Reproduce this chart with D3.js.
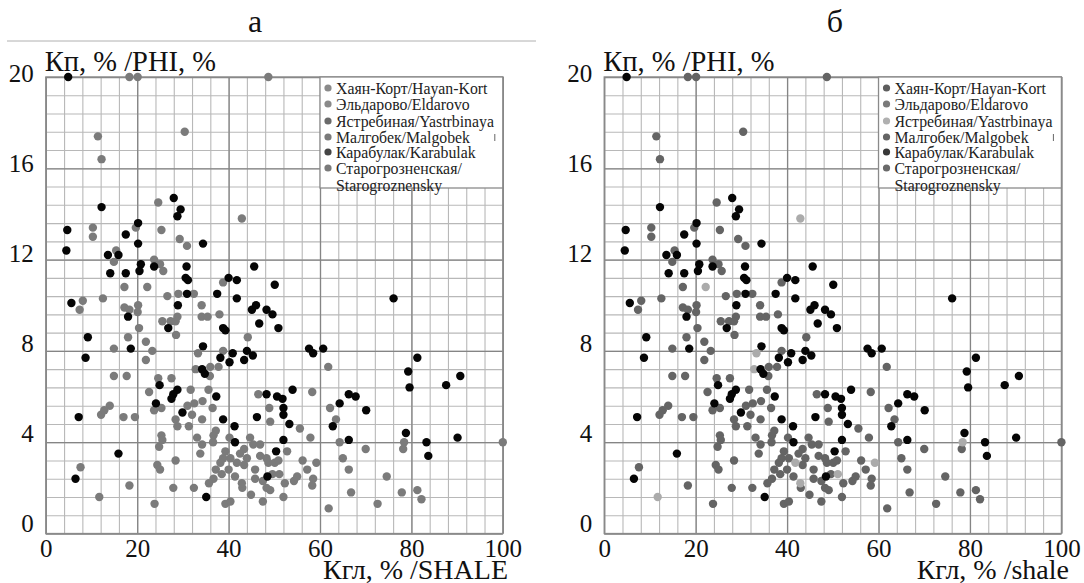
<!DOCTYPE html>
<html>
<head>
<meta charset="utf-8">
<script src="https://cdn.jsdelivr.net/npm/d3@7"></script>
<style>
  body { margin: 0; background: #fff; }
  text { font-family: "Liberation Serif", "Times New Roman", serif; }
</style>
</head>
<body>
<script>
// Axis ticks
const xTicks = [0, 20, 40, 60, 80, 100];
const yTicks = [0, 4, 8, 12, 16, 20];

// Legend entries (last one wraps to a second line)
const legendLabels = [
  "Хаян-Корт/Hayan-Kort",
  "Эльдарово/Eldarovo",
  "Ястребиная/Yastrbinaya",
  "Малгобек/Malgobek",
  "Карабулак/Karabulak",
  "Старогрозненская/",
  "Starogroznensky"
];

// Karabulak points [SHALE %, PHI %] (black)
const karabulak = [
  [4.9,20],[28.0,14.7],[29.5,14.2],[28.8,13.9],[12.2,14.3],[20.2,13.6],[4.7,13.3],[4.5,12.4],
  [17.5,13.1],[20.2,12.7],[34.4,12.7],[13.6,12.2],[15.9,12.2],[14.1,11.4],[17.5,11.4],[20.8,11.8],
  [20.5,11.5],[23.7,11.7],[30.8,11.7],[30.6,11.2],[31.1,11.1],[30.9,10.5],[45.6,11.7],[40.0,11.2],
  [41.8,11.1],[50.1,10.9],[37.5,10.5],[41.8,10.3],[5.6,10.1],[9.2,8.6],[8.7,7.7],[18.0,9.5],
  [28.9,10.0],[26.8,9.0],[38.8,9.0],[39.3,8.9],[45.1,9.8],[46.0,10.0],[48.3,9.8],[49.6,9.6],
  [46.7,9.2],[50.9,9.0],[76.1,10.3],[18.6,8.1],[34.4,8.2],[38.2,7.7],[40.9,7.9],[40.2,7.5],
  [44.0,8.0],[43.4,7.6],[45.3,7.8],[57.6,8.1],[58.5,7.9],[60.7,8.1],[34.2,7.2],[34.8,7.0],
  [24.9,6.5],[28.8,6.3],[27.9,6.1],[27.5,5.9],[37.3,6.0],[24.1,5.7],[29.9,5.3],[38.8,5.0],
  [41.3,4.7],[41.4,4.0],[46.2,5.1],[48.3,6.1],[50.6,6.0],[51.8,5.9],[52.0,5.5],[52.0,5.2],
  [53.3,4.8],[54.0,6.3],[52.0,4.1],[50.4,3.6],[48.5,2.5],[35.1,1.6],[15.9,3.5],[6.5,2.4],
  [7.2,5.1],[62.8,4.7],[64.3,5.7],[66.3,6.1],[67.8,6.0],[70.1,5.4],[66.3,4.1],[78.8,4.4],
  [83.3,4.0],[83.7,3.4],[90.1,4.2],[79.3,7.1],[81.3,7.7],[79.6,6.4],[87.6,6.5],[90.7,6.9]
];

// Yastrebinaya points (light grey in panel б)
const yastrebinaya = [
  [42.9,13.8],[22.2,10.8],[33.3,7.9],[32.8,7.2],[41.8,3.1],[51.1,2.6],[42.9,2.2],[59.2,3.1],
  [78.4,4.0],[11.7,1.6]
];

// Remaining fields (grey)
const otherFields = [
  [18.3,20],[20.1,20],[48.7,20],[11.4,17.4],[30.4,17.6],[12.2,16.4],[24.6,14.5],[19.7,13.4],
  [10.3,13.4],[10.3,13.0],[25.3,13.3],[29.3,12.9],[30.9,12.6],[15.4,12.4],[14.9,11.9],[23.7,12.0],
  [25.0,11.8],[25.7,11.5],[32.4,10.5],[17.2,10.8],[26.6,10.4],[29.0,10.5],[38.8,11.0],[8.1,10.2],
  [7.4,9.8],[12.5,10.3],[17.2,9.9],[18.3,9.8],[20.2,10.0],[20.1,9.7],[34.1,10.0],[34.1,9.5],
  [35.4,9.5],[38.0,9.6],[25.5,9.3],[27.3,9.3],[28.8,9.5],[28.4,9.3],[20.4,9.0],[28.5,8.7],
  [44.2,8.6],[18.0,8.6],[14.9,8.1],[21.9,8.4],[23.3,8.0],[21.9,7.6],[14.9,6.9],[17.7,6.9],
  [38.8,8.0],[61.8,7.3],[36.0,7.3],[37.8,7.3],[35.9,6.9],[24.6,6.8],[27.5,6.8],[22.6,6.2],
  [31.7,6.3],[35.6,6.3],[25.3,5.5],[23.7,5.4],[31.0,5.6],[32.5,5.7],[32.0,5.2],[34.3,5.8],
  [36.5,5.5],[34.2,5.0],[28.4,5.0],[28.8,4.7],[31.3,4.7],[37.2,4.5],[36.7,4.3],[33.1,4.2],
  [34.2,3.9],[33.8,3.5],[36.6,4.0],[40.2,4.2],[46.5,6.1],[48.9,5.5],[49.1,4.9],[55.6,4.6],
  [57.9,4.2],[58.3,6.2],[52.8,3.6],[44.7,4.2],[45.4,3.9],[46.9,3.9],[43.4,3.7],[42.5,3.5],
  [44.0,3.3],[39.3,3.6],[38.8,3.3],[40.4,3.3],[43.4,3.0],[38.2,3.1],[37.2,2.8],[38.5,2.6],
  [40.0,2.8],[41.4,2.5],[36.7,2.4],[35.7,2.2],[32.4,2.0],[27.9,2.0],[43.0,2.0],[44.9,1.7],
  [45.8,2.8],[45.8,2.4],[47.5,2.3],[48.3,2.0],[49.1,1.9],[47.5,1.4],[49.6,2.6],[52.3,2.2],
  [52.0,1.6],[48.7,3.1],[50.1,3.1],[50.9,3.2],[48.3,3.3],[46.9,3.4],[54.3,2.3],[55.0,2.5],
  [56.2,3.2],[57.2,2.8],[58.5,2.4],[58.3,2.1],[39.3,1.3],[40.4,1.4],[23.8,1.3],[24.4,3.0],
  [25.0,2.8],[25.3,4.3],[24.8,3.8],[25.5,4.1],[28.4,3.2],[18.3,2.1],[7.6,2.9],[12.1,5.2],
  [14.0,5.6],[12.8,5.4],[17.0,5.1],[19.5,5.1],[63.5,5.0],[62.2,5.5],[64.3,4.0],[65.0,3.3],
  [66.3,2.8],[66.8,1.8],[70.0,3.7],[74.6,2.5],[72.6,1.3],[61.9,1.1],[77.9,1.8],[81.3,1.9],
  [82.2,1.5],[78.2,3.7],[100,4.0]
];

const svg = d3.select("body").append("svg")
  .attr("width", 1084)
  .attr("height", 583);

function drawPanel(cfg) {
  const x = d3.scaleLinear().domain([0, 100]).range([cfg.left, cfg.right]);
  const y = d3.scaleLinear().domain([0, 20]).range([cfg.bottom, cfg.top]);
  // the scanned y labels sit slightly above their grid lines
  const yLabel = d3.scaleLinear().domain([0, 20]).range([cfg.bottom - 10, cfg.top - 4]);
  const h = cfg.bottom - cfg.top;
  const w = cfg.right - cfg.left;
  const g = svg.append("g");

  // minor grid
  g.append("g")
    .attr("transform", `translate(0,${cfg.bottom})`)
    .call(d3.axisBottom(x).tickValues(d3.range(0, 101, 4)).tickSize(-h).tickFormat(""))
    .call(s => s.select(".domain").remove())
    .selectAll("line").attr("stroke", "#b8b8b8").attr("stroke-width", 1.1);
  g.append("g")
    .attr("transform", `translate(${cfg.left},0)`)
    .call(d3.axisLeft(y).tickValues(d3.range(26).map(i => i * 0.8)).tickSize(-w).tickFormat(""))
    .call(s => s.select(".domain").remove())
    .selectAll("line").attr("stroke", "#b8b8b8").attr("stroke-width", 1.1);

  // major grid
  g.append("g")
    .attr("transform", `translate(0,${cfg.bottom})`)
    .call(d3.axisBottom(x).tickValues(xTicks).tickSize(-h).tickFormat(""))
    .call(s => s.select(".domain").remove())
    .selectAll("line").attr("stroke", "#858585").attr("stroke-width", 1.3);
  g.append("g")
    .attr("transform", `translate(${cfg.left},0)`)
    .call(d3.axisLeft(y).tickValues(yTicks).tickSize(-w).tickFormat(""))
    .call(s => s.select(".domain").remove())
    .selectAll("line").attr("stroke", "#858585").attr("stroke-width", 1.3);

  g.append("rect")
    .attr("x", cfg.left).attr("y", cfg.top)
    .attr("width", w).attr("height", h)
    .attr("fill", "none").attr("stroke", "#8a8a8a").attr("stroke-width", 1.3);

  // tick labels
  g.append("g")
    .attr("transform", `translate(0,${cfg.bottom})`)
    .call(d3.axisBottom(x).tickValues(xTicks).tickSize(0).tickPadding(6))
    .call(s => s.select(".domain").remove())
    .selectAll("text").attr("font-size", 25).attr("fill", "#111")
    .style("font-family", "'Liberation Serif', serif");
  g.append("g")
    .attr("transform", `translate(${cfg.left},0)`)
    .call(d3.axisLeft(yLabel).tickValues(yTicks).tickSize(0).tickPadding(12))
    .call(s => s.select(".domain").remove())
    .selectAll("text").attr("font-size", 25).attr("fill", "#111")
    .style("font-family", "'Liberation Serif', serif");

  // titles
  g.append("text").attr("x", cfg.titleX).attr("y", 32)
    .attr("text-anchor", "middle").attr("font-size", 32).attr("fill", "#111").text(cfg.title);
  g.append("text").attr("x", cfg.left - 1).attr("y", 71)
    .attr("font-size", 28.5).attr("fill", "#111").text("Кп, % /PHI, %");
  g.append("text").attr("x", cfg.xTitleRight).attr("y", 579)
    .attr("text-anchor", "end").attr("font-size", 28).attr("fill", "#111").text(cfg.xTitle);

  // points
  const drawSet = (data, color) => {
    g.append("g").selectAll("circle")
      .data(data)
      .join("circle")
      .attr("cx", d => x(d[0]))
      .attr("cy", d => y(d[1]))
      .attr("r", 4.2)
      .attr("fill", color);
  };
  drawSet(otherFields, cfg.grey);
  drawSet(yastrebinaya, cfg.light);
  drawSet(karabulak, "#050505");

  // legend
  const lx = x(60), ly = cfg.top;
  g.append("rect")
    .attr("x", lx).attr("y", ly)
    .attr("width", x(100) - lx).attr("height", 111)
    .attr("fill", "#fff").attr("stroke", "#8a8a8a").attr("stroke-width", 1.3);
  const rowY = [88, 104, 121, 137, 152, 168, 185];
  legendLabels.forEach((label, i) => {
    if (cfg.legendColors[i]) {
      g.append("circle")
        .attr("cx", lx + 8).attr("cy", rowY[i]).attr("r", 3.6)
        .attr("fill", cfg.legendColors[i]);
    }
    g.append("text")
      .attr("x", lx + 16).attr("y", rowY[i]).attr("dy", "0.35em")
      .attr("font-size", 15.8).attr("fill", "#222").text(label);
  });
  g.append("line")
    .attr("x1", x(100) - 8).attr("x2", x(100) - 8)
    .attr("y1", 134).attr("y2", 141)
    .attr("stroke", "#666").attr("stroke-width", 1);
}

// thin rule above panel a
svg.append("line")
  .attr("x1", 7).attr("x2", 536).attr("y1", 41).attr("y2", 41)
  .attr("stroke", "#b0b0b0").attr("stroke-width", 1);

drawPanel({
  left: 45.8, right: 502.8, top: 77, bottom: 533.5,
  title: "а", titleX: 255,
  xTitle: "Кгл, % /SHALE", xTitleRight: 508,
  grey: "#7b7b7b", light: "#7b7b7b",
  legendColors: ["#8a8a8a", "#8a8a8a", "#6a6a6a", "#7a7a7a", "#454545", "#7a7a7a", null]
});

drawPanel({
  left: 604.2, right: 1061.4, top: 77, bottom: 533.5,
  title: "б", titleX: 835,
  xTitle: "Кгл, % /shale", xTitleRight: 1069,
  grey: "#646464", light: "#ababab",
  legendColors: ["#5e5e5e", "#7a7a7a", "#b0b0b0", "#646464", "#383838", "#6a6a6a", null]
});
</script>
</body>
</html>
